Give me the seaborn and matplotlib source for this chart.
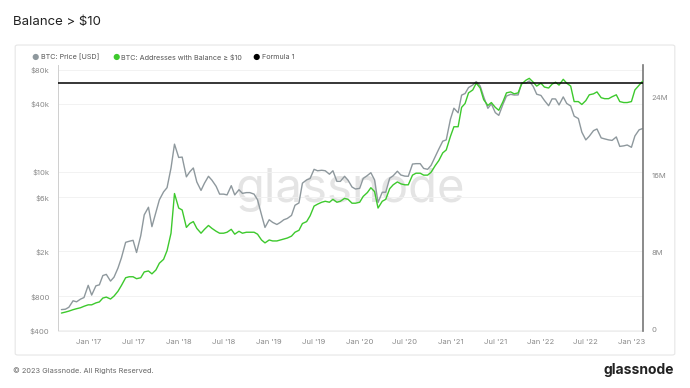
import matplotlib
matplotlib.use("Agg")
import matplotlib.pyplot as plt
import matplotlib.dates as mdates
from matplotlib.patches import FancyBboxPatch
import seaborn as sns
import pandas as pd

# semi-monthly samples (1st and 15th), Sep 15 2016 -> Feb 15 2023
dates = pd.date_range("2016-09-15", periods=155, freq="SMS")

# BTC price [USD]
price = [
    610, 615, 640, 730, 715, 755, 780,
    1000, 820, 990, 1010, 1220, 1250, 1090, 1180, 1420, 1750, 2400, 2450,
    2500, 1950, 2750, 4200, 4900, 3300, 4400, 5700, 6700, 7300, 10900, 17700,
    13500, 13600, 9100, 10100, 10900, 8200, 6900, 8000, 9200, 8500, 7500, 6400,
    6400, 6300, 7600, 6300, 7000, 6500, 6600, 6600, 6400, 5700, 4200, 3250,
    3800, 3600, 3450, 3600, 3800, 3900, 4150, 5100, 5350, 8000, 8550, 8800,
    10600, 10300, 10400, 10300, 9600, 10300, 8300, 8300, 9200, 8500, 7400, 7100,
    7200, 8800, 9350, 9900, 8550, 5400, 6650, 6650, 8850, 9300, 10200, 9450,
    9230, 9200, 11800, 11900, 11900, 10800, 10600, 11500, 13800, 16000, 18800, 19300,
    29400, 36800, 33500, 48000, 49600, 56000, 59000, 63200, 57800, 46500, 36700, 40200,
    33600, 31800, 39900, 47100, 48800, 48100, 48200, 61500, 61300, 64000, 57200, 48900,
    47700, 43100, 38700, 44500, 44400, 39300, 46300, 40500, 38500, 31300, 29800, 22600,
    19300, 20800, 23300, 24100, 20100, 19700, 19300, 19100, 20500, 16900, 17100, 17400,
    16600, 20900, 23700, 24300,
]

# BTC: Addresses with Balance > $10 (millions)
addresses = [
    1.75, 1.85, 1.95, 2.1, 2.2, 2.3, 2.45,
    2.6, 2.6, 2.8, 2.9, 3.3, 3.4, 3.2, 3.5, 4.0, 4.6, 5.4, 5.5,
    5.5, 5.3, 5.4, 6.0, 6.1, 5.8, 6.2, 6.9, 7.3, 8.2, 10.0, 14.1,
    12.6, 12.4, 10.6, 11.0, 11.2, 10.5, 10.0, 10.4, 10.8, 10.5, 10.2, 10.0,
    10.0, 10.1, 10.4, 9.9, 10.2, 10.0, 10.1, 10.1, 10.1, 9.9, 9.3, 9.0,
    9.3, 9.2, 9.2, 9.3, 9.4, 9.5, 9.7, 10.1, 10.3, 11.0, 11.2, 11.8,
    12.8, 13.0, 13.2, 13.3, 13.2, 13.5, 13.2, 13.3, 13.6, 13.5, 13.1, 13.1,
    13.2, 13.8, 14.2, 14.7, 14.3, 12.6, 13.3, 13.5, 14.6, 15.0, 15.3, 15.1,
    15.0, 15.0, 16.0, 16.2, 16.2, 16.0, 16.0, 16.3, 17.0, 17.5, 18.3, 18.6,
    20.0, 21.0, 21.0, 23.0, 23.4, 24.5, 24.8, 25.5, 25.0, 23.8, 23.2, 23.5,
    23.0, 22.7, 23.6, 24.5, 24.6, 24.4, 24.5, 25.4, 25.8, 26.0, 25.6, 25.2,
    25.5, 25.1, 25.0, 25.4, 25.6, 25.3, 25.9, 25.5, 25.2, 23.6, 23.6, 23.3,
    23.7, 24.3, 24.4, 24.6, 24.0, 23.9, 23.9, 24.1, 24.3, 23.6, 23.5, 23.5,
    23.6, 24.8, 25.3, 25.7,
]

formula_1 = 25.5  # millions

price_ticks = [400, 800, 2000, 6000, 10000, 40000, 80000]
price_labels = ["$400", "$800", "$2k", "$6k", "$10k", "$40k", "$80k"]
addr_ticks = [0, 8, 16, 24]
addr_labels = ["0", "8M", "16M", "24M"]

df = pd.DataFrame({"date": dates, "price": price, "addresses": addresses})

GRAY = "#8e989d"
GREEN = "#3dc92d"
TICK = "#8a8a8a"

sns.set_style("white")
plt.rcParams["font.family"] = ["Inter", "DejaVu Sans"]

fig = plt.figure(figsize=(6.9, 3.88), dpi=100)

# panel frame
frame = FancyBboxPatch((0.022, 0.085), 0.956, 0.799,
                       boxstyle="round,pad=0,rounding_size=0.004",
                       transform=fig.transFigure, fc="white",
                       ec="#e6e6e6", lw=0.8, zorder=-10)
fig.patches.append(frame)

ax = fig.add_axes([0.084, 0.147, 0.848, 0.686])
ax2 = ax.twinx()
ax.set_zorder(1)
ax2.set_zorder(2)
ax.patch.set_visible(False)
ax2.patch.set_visible(False)

# watermark
ax.text(0.5, 0.53, "glassnode", transform=ax.transAxes, ha="center", va="center",
        fontsize=34, color="#e4e4e4", zorder=0)

sns.lineplot(data=df, x="date", y="price", ax=ax, color=GRAY, lw=1.0, zorder=2)
sns.lineplot(data=df, x="date", y="addresses", ax=ax2, color=GREEN, lw=1.0, zorder=3)
ax2.axhline(formula_1, color="black", lw=1.1, zorder=4)

ax.set_yscale("log")
ax.set_ylim(395, 89000)
ax.set_yticks(price_ticks)
ax.set_yticklabels(price_labels)
ax.minorticks_off()
ax2.set_ylim(-0.1, 27.4)
ax2.set_yticks(addr_ticks)
ax2.set_yticklabels(addr_labels)

ax.set_xlim(pd.Timestamp("2016-09-01"), pd.Timestamp("2023-02-17"))
ax.xaxis.set_major_locator(mdates.MonthLocator(bymonth=[1, 7]))
ax.xaxis.set_major_formatter(mdates.DateFormatter("%b '%y"))

for a in (ax, ax2):
    a.set_xlabel("")
    a.set_ylabel("")
    a.tick_params(length=0, labelsize=5.5, labelcolor=TICK, pad=6)
    for s in a.spines.values():
        s.set_visible(False)

ax.grid(axis="y", color="#f0f0f0", lw=0.6)
ax.spines["left"].set_visible(True)
ax.spines["left"].set_color("#cfcfcf")
ax.spines["left"].set_linewidth(0.7)
ax.spines["bottom"].set_visible(True)
ax.spines["bottom"].set_color("#eeeeee")
ax.spines["bottom"].set_linewidth(0.7)
ax2.spines["right"].set_visible(True)
ax2.spines["right"].set_color("#777777")
ax2.spines["right"].set_linewidth(1.2)

# title
fig.text(0.019, 0.943, "Balance > $10", fontsize=9.5, color="#222222", va="center")

# legend
ly = 0.853
items = [(0.051, GRAY, "BTC: Price [USD]"),
         (0.168, GREEN, "BTC: Addresses with Balance \u2265 $10"),
         (0.372, "black", "Formula 1")]
for x, c, t in items:
    fig.text(x, ly, "\u25cf", color=c, fontsize=6, va="center", ha="center")
    fig.text(x + 0.008, ly, t, color="#555555", fontsize=5.2, va="center")

# footer
fig.text(0.019, 0.046, "\u00a9 2023 Glassnode. All Rights Reserved.", fontsize=5.3,
         color="#666666", va="center")
fig.text(0.925, 0.046, "glassnode", fontsize=10, color="#222222", va="center",
         ha="center", fontweight="bold")

fig.savefig("out.png", dpi=100)
